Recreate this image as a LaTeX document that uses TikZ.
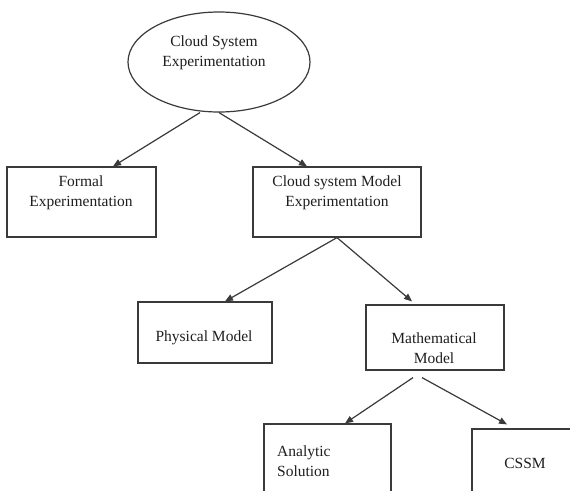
\documentclass[tikz,border=0pt]{standalone}
\usepackage{fontspec}
\setmainfont{Liberation Serif}
\usetikzlibrary{arrows.meta,shapes.geometric}
\definecolor{linegray}{HTML}{3A3A3A}
\definecolor{inkgray}{HTML}{1E1E1E}
\begin{document}
\begin{tikzpicture}[x=1pt,y=-1pt,
  box/.style={draw=linegray,line width=1.2pt,rectangle,inner sep=0pt},
  oval/.style={draw=linegray,line width=1.2pt,ellipse,inner sep=0pt},
  txt/.style={text=inkgray,align=center,inner sep=0pt,font=\fontsize{15.5}{20}\selectfont},
  link/.style={draw=linegray,line width=1.2pt,-{Triangle[length=8pt,width=6.5pt]}}]
  \useasboundingbox (0,0) rectangle (570,490);
  \fill[white] (0,0) rectangle (570,490);
  \clip (0,0) rectangle (570,490);

  % shapes
  \node[oval,minimum width=182pt,minimum height=100pt] (E) at (219,62) {};
  \node[box,minimum width=149pt,minimum height=70pt] (F) at (81.5,202) {};
  \node[box,minimum width=168pt,minimum height=70pt] (C) at (337,202) {};
  \node[box,minimum width=134pt,minimum height=61pt] (P) at (205,332.5) {};
  \node[box,minimum width=138pt,minimum height=65pt] (M) at (435,337.5) {};
  \node[box,minimum width=127pt,minimum height=96pt] (A) at (327.5,472) {};
  \node[box,minimum width=128pt,minimum height=91pt] (S) at (536,474.5) {};

  % labels
  \node[txt] (Et) at (214,52.5) {Cloud System\\Experimentation};
  \node[txt] (Ft) at (81,193) {Formal\\Experimentation};
  \node[txt] (Ct) at (337,193) {Cloud system Model\\Experimentation};
  \node[txt] (Pt) at (204,338) {Physical Model};
  \node[txt] (Mt) at (434,348) {Mathematical\\Model};
  \node[txt,anchor=west,align=left] (At) at (277,461) {Analytic\\Solution};
  \node[txt] (St) at (525,463) {CSSM};

  % connectors
  \draw[link] ([xshift=-19pt]E.south) -- ([xshift=31.5pt]F.north);
  \draw[link] (E.south) -- ([xshift=-30pt]C.north);
  \draw[link] (C.south) -- ([xshift=20pt]P.north);
  \draw[link] (C.south) -- ([xshift=-23pt,yshift=3pt]M.north);
  \draw[link] ([xshift=-22pt,yshift=-7pt]M.south) -- ([xshift=17.5pt]A.north);
  \draw[link] ([xshift=-13pt,yshift=-7pt]M.south) -- ([xshift=-29pt,yshift=4pt]S.north);
\end{tikzpicture}
\end{document}
